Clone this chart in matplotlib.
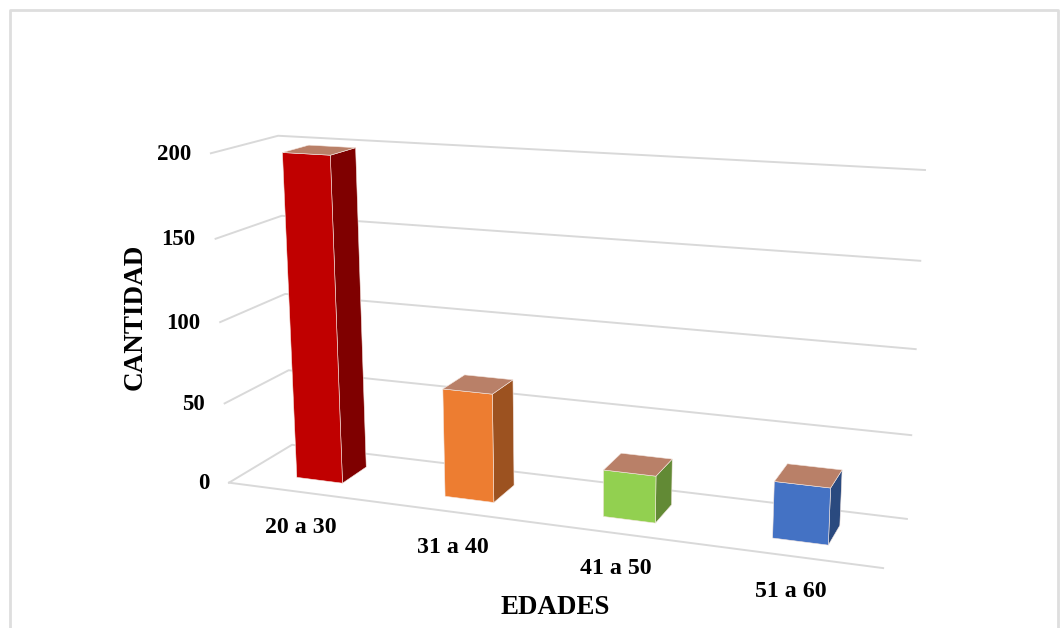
# -*- coding: utf-8 -*-
import numpy as np
import matplotlib
matplotlib.use('Agg')
import matplotlib.pyplot as plt
from matplotlib.patches import Polygon

# chart data
categories = ['20 a 30', '31 a 40', '41 a 50', '51 a 60']
values = [199, 66, 28, 33]
y_ticks = [0, 50, 100, 150, 200]

front_colors = ['#C00000', '#ED7D31', '#92D050', '#4472C4']
side_colors = ['#7F0000', '#9C5220', '#628A35', '#2A4A7F']
top_color = '#B98068'
grid_color = '#D9D9D9'

plt.rcParams['font.family'] = ['Liberation Serif', 'DejaVu Serif']

# where the corners of the 3d box land in the picture, used to fit the camera
box_3d = np.array([[0, 0, 0], [4, 0, 0], [4, 1, 0], [0, 1, 0],
                   [0, 0, 200], [0, 1, 200], [4, 1, 200]], dtype=float)
box_px = np.array([[229, 483], [883, 568], [907, 519], [292, 444.5],
                   [211, 153], [278, 136], [925, 170]], dtype=float)


def fit_camera(pts, px):
    rows = []
    rhs = []
    for (x, y, z), (u, v) in zip(pts, px):
        rows.append([x, y, z, 1, 0, 0, 0, 0, -u * x, -u * y, -u * z])
        rows.append([0, 0, 0, 0, x, y, z, 1, -v * x, -v * y, -v * z])
        rhs.extend([u, v])
    sol = np.linalg.lstsq(np.array(rows), np.array(rhs), rcond=None)[0]
    return np.append(sol, 1).reshape(3, 4)


cam = fit_camera(box_3d, box_px)


def proj(x, y, z):
    p = cam @ np.array([x, y, z, 1.0])
    return p[0] / p[2], p[1] / p[2]


fig = plt.figure(figsize=(10.62, 6.28), dpi=100)
ax = fig.add_axes([0, 0, 1, 1])
ax.set_xlim(0, 1062)
ax.set_ylim(628, 0)
ax.axis('off')

# outer chart frame, open at the bottom
ax.plot([10, 10, 1058, 1058], [628, 10, 10, 628], color='#DEDEDE', lw=2)

# gridlines on left wall and back wall
for t in y_ticks:
    pts = [proj(0, 0, t), proj(0, 1, t), proj(4, 1, t)]
    ax.plot([p[0] for p in pts], [p[1] for p in pts], color=grid_color, lw=1.4)
    wx, wy = proj(0, 0, t)
    ax.text(wx - 20, wy + 1, str(t), ha='right', va='center', fontsize=16.5, fontweight='bold')

# front edge of the floor
pts = [proj(0, 0, 0), proj(4, 0, 0)]
ax.plot([p[0] for p in pts], [p[1] for p in pts], color=grid_color, lw=1.4)

# bars
bar_w = 0.315
d0, d1 = 0.29, 0.70
for i, val in enumerate(values):
    x0 = i + 0.5 - bar_w / 2
    x1 = i + 0.5 + bar_w / 2
    front = [proj(x0, d0, 0), proj(x1, d0, 0), proj(x1, d0, val), proj(x0, d0, val)]
    side = [proj(x1, d0, 0), proj(x1, d1, 0), proj(x1, d1, val), proj(x1, d0, val)]
    top = [proj(x0, d0, val), proj(x1, d0, val), proj(x1, d1, val), proj(x0, d1, val)]
    ax.add_patch(Polygon(side, closed=True, fc=side_colors[i], ec='#F4E6E0', lw=0.4, zorder=3))
    ax.add_patch(Polygon(front, closed=True, fc=front_colors[i], ec='#F4E6E0', lw=0.4, zorder=3))
    ax.add_patch(Polygon(top, closed=True, fc=top_color, ec='#F4E6E0', lw=0.4, zorder=3))

    lx, ly = proj(i + 0.5, 0, 0)
    ax.text(lx - 0.5, ly + 35, categories[i], ha='center', va='center', fontsize=17.2, fontweight='bold')

ax.text(555, 607, 'EDADES', ha='center', va='center', fontsize=19.4, fontweight='bold')
ax.text(135, 317, 'CANTIDAD', ha='center', va='center', rotation=90, fontsize=19.5, fontweight='bold')

fig.savefig('out.png', dpi=100)
